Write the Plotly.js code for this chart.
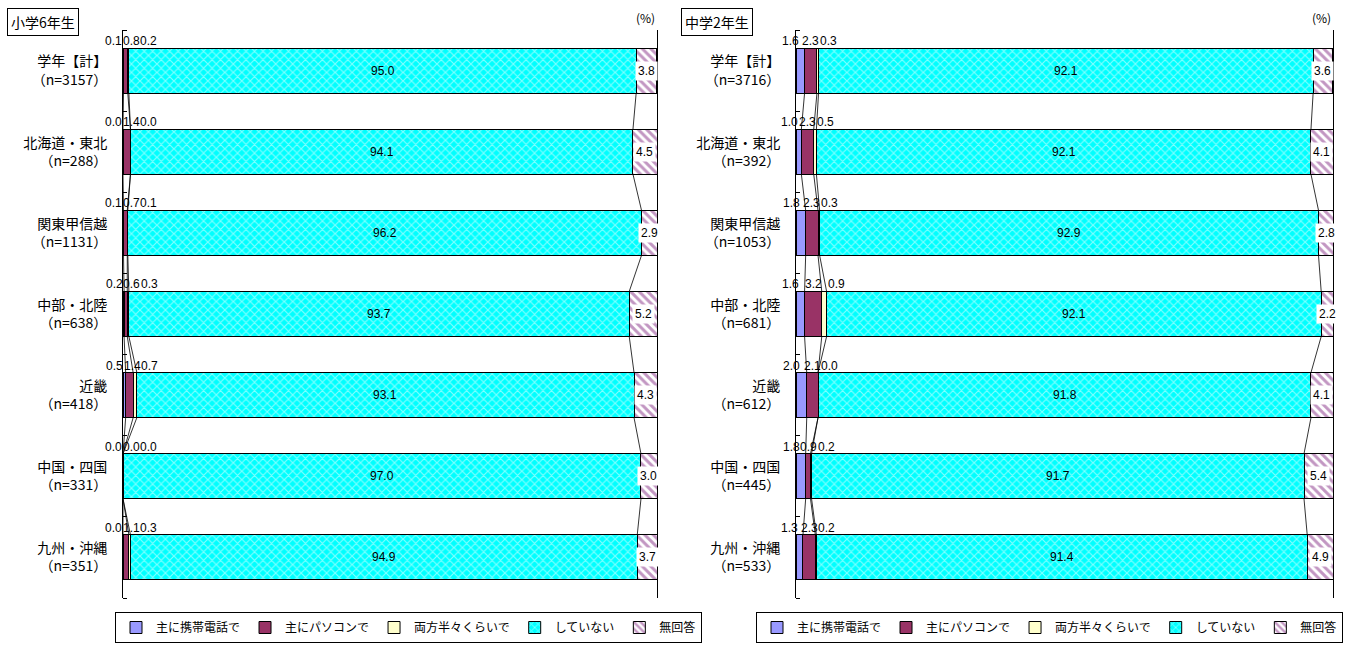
<!DOCTYPE html>
<html>
<head>
<meta charset="utf-8">
<script src="https://cdn.plot.ly/plotly-3.0.1.min.js"></script>
<style>html,body{margin:0;padding:0;background:#fff;}#chart{width:1349px;height:648px;}</style>
</head>
<body>
<div id="chart"></div>
<script>
const categories = ['学年【計】','北海道・東北','関東甲信越','中部・北陸','近畿','中国・四国','九州・沖縄'];
const nElem = [3157,288,1131,638,418,331,351];
const nJr = [3716,392,1053,681,612,445,533];
const seriesNames = ['主に携帯電話で','主にパソコンで','両方半々くらいで','していない','無回答'];

// 小学6年生
const elemMobile = [0.1,0.0,0.1,0.2,0.5,0.0,0.0];
const elemPC     = [0.8,1.4,0.7,0.6,1.4,0.0,1.1];
const elemBoth   = [0.2,0.0,0.1,0.3,0.7,0.0,0.3];
const elemNone   = [95.0,94.1,96.2,93.7,93.1,97.0,94.9];
const elemNA     = [3.8,4.5,2.9,5.2,4.3,3.0,3.7];

// 中学2年生
const jrMobile = [1.6,1.0,1.8,1.6,2.0,1.8,1.3];
const jrPC     = [2.3,2.3,2.3,3.2,2.1,0.9,2.3];
const jrBoth   = [0.3,0.5,0.3,0.9,0.0,0.2,0.2];
const jrNone   = [92.1,92.1,92.9,92.1,91.8,91.7,91.4];
const jrNA     = [3.6,4.1,2.8,2.2,4.1,5.4,4.9];

const CJK = '"Noto Sans CJK JP", "Noto Sans", sans-serif';
const NUM = '"Liberation Sans", Arial, sans-serif';
const barW = 0.555;
const ypos = categories.map((c,i)=>i);

const styles = [
  {color:'#9999FF'},
  {color:'#993366'},
  {color:'#FFFFCC'},
  {color:'#00FFFF', pattern:{shape:'x', fgcolor:'#FFFFFF', bgcolor:'#00FFFF', size:6, solidity:0.35, fillmode:'overlay'}},
  {color:'#FFFFFF', pattern:{shape:'\\', fgcolor:'#862D86', bgcolor:'#FFFFFF', size:6, solidity:0.5, fillmode:'overlay'}}
];

function panel(series, nArr, xa, ya, legendName){
  const traces = [];
  const ann = [];
  series.forEach((vals, k)=>{
    const st = styles[k];
    const marker = {color: st.color, line:{color:'#000', width:1}};
    if (st.pattern) marker.pattern = st.pattern;
    traces.push({
      type:'bar', orientation:'h', name: seriesNames[k],
      x: vals, y: ypos, width: barW, marker: marker,
      xaxis: xa, yaxis: ya, legend: legendName, showlegend: true,
      hoverinfo:'skip'
    });
  });
  const cum = categories.map((c,i)=>{
    let s=0; const arr=[0];
    series.forEach(v=>{ s+=v[i]; arr.push(s); });
    return arr;
  });
  const lx=[], ly=[];
  for (let b=1;b<=4;b++){
    for (let i=0;i<categories.length-1;i++){
      lx.push(cum[i][b], cum[i+1][b], null);
      ly.push(i+barW/2, i+1-barW/2, null);
    }
  }
  traces.push({type:'scatter', mode:'lines', x:lx, y:ly, xaxis:xa, yaxis:ya,
    line:{color:'#000', width:0.8}, showlegend:false, hoverinfo:'skip'});
  const xr = xa;
  const yr = ya;
  categories.forEach((c,i)=>{
    const v = series.map(s=>s[i]);
    const c1 = v[0]/2;
    const c2 = v[0]+v[1]/2;
    const l2 = Math.max(c2, c1+1.5);
    const l3 = Math.max(cum[i][3], l2+1.5);
    const top = i - barW/2;
    const f = {family:NUM, size:12, color:'#000'};
    ann.push({xref:xr, yref:yr, x:c1, y:top, text:v[0].toFixed(1), showarrow:false, xanchor:'right', yanchor:'bottom', font:f, borderpad:0, yshift:-1});
    ann.push({xref:xr, yref:yr, x:l2, y:top, text:v[1].toFixed(1), showarrow:false, xanchor:'center', yanchor:'bottom', font:f, borderpad:0, yshift:-1});
    ann.push({xref:xr, yref:yr, x:l3, y:top, text:v[2].toFixed(1), showarrow:false, xanchor:'left', yanchor:'bottom', font:f, borderpad:0, yshift:-1});
    ann.push({xref:xr, yref:yr, x:cum[i][3]+v[3]/2, y:i, text:v[3].toFixed(1), showarrow:false, xanchor:'center', yanchor:'middle', font:f});
    ann.push({xref:xr, yref:yr, x:cum[i][4]+v[4]/2, y:i, text:v[4].toFixed(1), showarrow:false, xanchor:'center', yanchor:'middle', font:f, bgcolor:'#FFFFFF', borderpad:2});
  });
  ann.push({xref:xr, yref:'paper', x:100, y:1-17/648, text:'(%)', showarrow:false, xanchor:'right', yanchor:'middle', font:{family:CJK, size:12, color:'#000'}});
  return {traces, ann};
}

const left = panel([elemMobile, elemPC, elemBoth, elemNone, elemNA], nElem, 'x', 'y', 'legend');
const right = panel([jrMobile, jrPC, jrBoth, jrNone, jrNA], nJr, 'x2', 'y2', 'legend2');

const yDom = [1-598/648, 1-30/648];
function yAxis(nArr){
  return {
    domain: yDom, range:[categories.length-0.5, -0.5], tickvals: ypos,
    ticktext: categories.map((c,i)=>c+'<br>（n='+nArr[i]+'）'),
    tickfont:{family:CJK, size:14, color:'#000'},
    ticks:'', showline:true, linecolor:'#000', linewidth:1, mirror:true,
    showgrid:false, zeroline:false, ticklabelstandoff:12,
    minor:{ticks:'inside', ticklen:4, tickcolor:'#000', tick0:0.5, dtick:1, showgrid:false}
  };
}
function xAxis(dom){
  return {domain: dom, range:[0,100], showticklabels:false, ticks:'', showgrid:false, zeroline:false, showline:false, fixedrange:true};
}

const legendBase = {
  orientation:'h', bordercolor:'#000', borderwidth:1, bgcolor:'#fff',
  font:{family:CJK, size:12, color:'#000'}, itemwidth:30, yanchor:'top',
  traceorder:'normal', itemclick:false
};

const layout = {
  width:1349, height:648, margin:{l:0,r:0,t:0,b:0, autoexpand:false},
  paper_bgcolor:'#fff', plot_bgcolor:'#fff', barmode:'stack', bargap:0,
  showlegend:true,
  xaxis: Object.assign(xAxis([123/1349, 657/1349]), {anchor:'y'}),
  yaxis: Object.assign(yAxis(nElem), {anchor:'x'}),
  xaxis2: Object.assign(xAxis([796/1349, 1333/1349]), {anchor:'y2'}),
  yaxis2: Object.assign(yAxis(nJr), {anchor:'x2'}),
  legend: Object.assign({}, legendBase, {x:115/1349, xanchor:'left', y:1-612/648}),
  legend2: Object.assign({}, legendBase, {x:1343/1349, xanchor:'right', y:1-612/648}),
  annotations: left.ann.concat(right.ann).concat([
    {xref:'paper', yref:'paper', x:7/1349, y:1-8/648, text:'小学6年生', showarrow:false, xanchor:'left', yanchor:'top',
     bordercolor:'#000', borderwidth:1, borderpad:3, font:{family:CJK, size:14, color:'#000'}},
    {xref:'paper', yref:'paper', x:681/1349, y:1-8/648, text:'中学2年生', showarrow:false, xanchor:'left', yanchor:'top',
     bordercolor:'#000', borderwidth:1, borderpad:3, font:{family:CJK, size:14, color:'#000'}}
  ])
};

Plotly.newPlot('chart', left.traces.concat(right.traces), layout, {staticPlot:true, displayModeBar:false});
</script>
</body>
</html>
